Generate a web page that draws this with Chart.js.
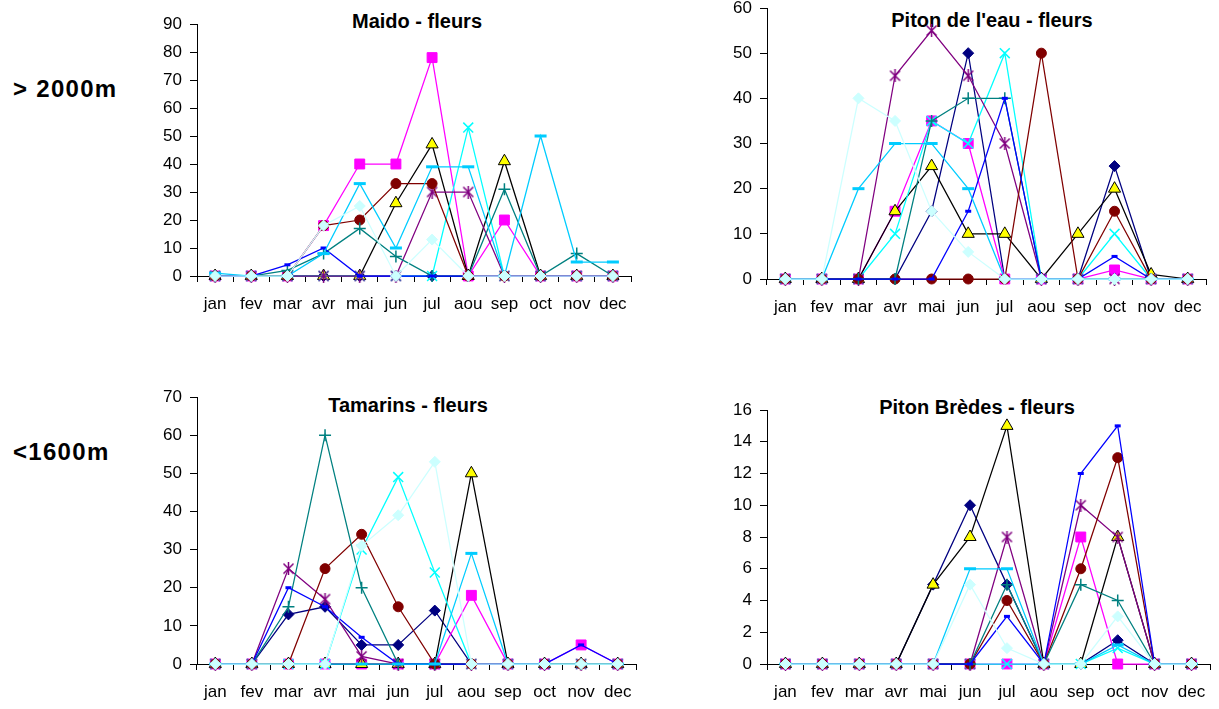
<!DOCTYPE html>
<html>
<head>
<meta charset="utf-8">
<script src="https://cdn.jsdelivr.net/npm/chart.js@4.4.1/dist/chart.umd.min.js"></script>
<style>
  body { margin: 0; background: #fff; width: 1219px; height: 709px; overflow: hidden; position: relative;
         font-family: 'Liberation Sans', Arial, sans-serif; }
  canvas { position: absolute; }
  .title { position: absolute; font-weight: bold; font-size: 20px; line-height: 20px; white-space: nowrap;
           transform: translateX(-50%); color: #000; }
  .zone { position: absolute; font-weight: bold; font-size: 24px; line-height: 24px; white-space: nowrap;
          letter-spacing: 1.3px; color: #000; }
</style>
</head>
<body>
<div class="zone" style="left:13px; top:77px;">&gt; 2000m</div>
<div class="zone" style="left:13px; top:440px;">&lt;1600m</div>

<div class="title" style="left:417px; top:11px;">Maido - fleurs</div>
<div class="title" style="left:992px; top:10px;">Piton de l'eau - fleurs</div>
<div class="title" style="left:408px; top:395px;">Tamarins - fleurs</div>
<div class="title" style="left:977px; top:397px;">Piton Brèdes - fleurs</div>

<canvas id="maido"></canvas>
<canvas id="eau"></canvas>
<canvas id="tamarins"></canvas>
<canvas id="bredes"></canvas>

<script>
// months on the x axis
const months = ['jan', 'fev', 'mar', 'avr', 'mai', 'jun', 'jul', 'aou', 'sep', 'oct', 'nov', 'dec'];

// Maido (> 2000m) - one array per series
const maidoNavy    = [0, 0, 0, 0, 0, 0, 0, 0, 0, 0, 0, 0];
const maidoMagenta = [0, 0, 0, 18, 40, 40, 78, 0, 20, 0, 0, 0];
const maidoYellow  = [0, 0, 0, 0, 0, 26, 47, 0, 41, 0, 0, 0];
const maidoCyan    = [0, 0, 0, 0, 0, 0, 0, 53, 0, 0, 0, 0];
const maidoPurple  = [0, 0, 0, 0, 0, 0, 30, 30, 0, 0, 0, 0];
const maidoMaroon  = [0, 0, 0, 18, 20, 33, 33, 0, 0, 0, 0, 0];
const maidoTeal    = [0, 0, 2, 8, 17, 7, 0, 0, 31, 0, 8, 0];
const maidoBlue    = [0, 0, 4, 10, 0, 0, 0, 0, 0, 0, 0, 0];
const maidoSky     = [1, 0, 0, 8, 33, 10, 39, 39, 0, 50, 5, 5];
const maidoPale    = [0, 0, 0, 18, 25, 0, 13, 0, 0, 0, 0, 0];

// Piton de l'eau (> 2000m)
const eauNavy    = [0, 0, 0, 0, 15, 50, 0, 0, 0, 25, 0, 0];
const eauMagenta = [0, 0, 0, 15, 35, 30, 0, 0, 0, 2, 0, 0];
const eauYellow  = [0, 0, 0, 15, 25, 10, 10, 0, 10, 20, 1, 0];
const eauCyan    = [0, 0, 0, 10, 35, 30, 50, 0, 0, 10, 0, 0];
const eauPurple  = [0, 0, 0, 45, 55, 45, 30, 0, 0, 0, 0, 0];
const eauMaroon  = [0, 0, 0, 0, 0, 0, 0, 50, 0, 15, 0, 0];
const eauTeal    = [0, 0, 0, 0, 35, 40, 40, 0, 0, 0, 0, 0];
const eauBlue    = [0, 0, 0, 0, 0, 15, 40, 0, 0, 5, 0, 0];
const eauSky     = [0, 0, 20, 30, 30, 20, 0, 0, 0, 0, 0, 0];
const eauPale    = [0, 0, 40, 35, 15, 6, 0, 0, 0, 0, 0, 0];

// Tamarins (< 1600m)
const tamNavy    = [0, 0, 13, 15, 5, 5, 14, 0, 0, 0, 0, 0];
const tamMagenta = [0, 0, 0, 0, 0, 0, 0, 18, 0, 0, 5, 0];
const tamYellow  = [0, 0, 0, 0, 0, 0, 0, 50, 0, 0, 0, 0];
const tamCyan    = [0, 0, 0, 0, 30, 49, 24, 0, 0, 0, 0, 0];
const tamPurple  = [0, 0, 25, 17, 2, 0, 0, 0, 0, 0, 0, 0];
const tamMaroon  = [0, 0, 0, 25, 34, 15, 0, 0, 0, 0, 0, 0];
const tamTeal    = [0, 0, 15, 60, 20, 0, 0, 0, 0, 0, 0, 0];
const tamBlue    = [0, 0, 20, 15, 7, 0, 0, 0, 0, 0, 5, 0];
const tamSky     = [0, 0, 0, 0, 0, 0, 0, 29, 0, 0, 0, 0];
const tamPale    = [0, 0, 0, 0, 31, 39, 53, 0, 0, 0, 0, 0];

// Piton Brèdes (< 1600m)
const bredNavy    = [0, 0, 0, 0, 5, 10, 5, 0, 0, 1.5, 0, 0];
const bredMagenta = [0, 0, 0, 0, 0, 0, 0, 0, 8, 0, 0, 0];
const bredYellow  = [0, 0, 0, 0, 5, 8, 15, 0, 0, 8, 0, 0];
const bredCyan    = [0, 0, 0, 0, 0, 0, 0, 0, 0, 1, 0, 0];
const bredPurple  = [0, 0, 0, 0, 0, 0, 8, 0, 10, 8, 0, 0];
const bredMaroon  = [0, 0, 0, 0, 0, 0, 4, 0, 6, 13, 0, 0];
const bredTeal    = [0, 0, 0, 0, 0, 0, 5, 0, 5, 4, 0, 0];
const bredBlue    = [0, 0, 0, 0, 0, 0, 3, 0, 12, 15, 0, 0];
const bredSky     = [0, 0, 0, 0, 0, 6, 6, 0, 0, 1.2, 0, 0];
const bredPale    = [0, 0, 0, 0, 0, 5, 1, 0, 0, 3, 0, 0];

// y axis ranges
const maidoMax = 90, eauMax = 60, tamMax = 70, bredMax = 16;
const maidoStep = 10, eauStep = 10, tamStep = 10, bredStep = 2;

Chart.defaults.font.family = "'Liberation Sans', Arial, sans-serif";
Chart.defaults.font.size = 17;
Chart.defaults.color = '#000';

// asterisk marker: an X with a vertical bar
function asterisk(color) {
  const c = document.createElement('canvas');
  c.width = 13; c.height = 13;
  const g = c.getContext('2d');
  g.strokeStyle = color;
  g.lineWidth = 1.5;
  g.beginPath();
  g.moveTo(1.5, 1.5); g.lineTo(11.5, 11.5);
  g.moveTo(11.5, 1.5); g.lineTo(1.5, 11.5);
  g.moveTo(6.5, 0); g.lineTo(6.5, 13);
  g.stroke();
  return c;
}

// line + marker look of the ten series, in drawing order
const looks = [
  { line: '#000080', style: 'rectRot', r: 5.5, fill: '#000080', edge: '#000080', bw: 1 },
  { line: '#FF00FF', style: 'rect', r: 7, fill: '#FF00FF', edge: '#FF00FF', bw: 1 },
  { line: '#000000', style: 'triangle', r: 7, fill: '#FFFF00', edge: '#000000', bw: 1 },
  { line: '#00FFFF', style: 'crossRot', r: 7, fill: '#00FFFF', edge: '#00FFFF', bw: 1.5 },
  { line: '#800080', style: asterisk('#800080'), r: 7, fill: '#800080', edge: '#800080', bw: 1.5 },
  { line: '#800000', style: 'circle', r: 5, fill: '#800000', edge: '#800000', bw: 1 },
  { line: '#008080', style: 'cross', r: 6, fill: '#008080', edge: '#008080', bw: 1.5 },
  { line: '#0000FF', style: 'line', r: 3, fill: '#0000FF', edge: '#0000FF', bw: 3 },
  { line: '#00CCFF', style: 'line', r: 6, fill: '#00CCFF', edge: '#00CCFF', bw: 3 },
  { line: '#CCFFFF', style: 'rectRot', r: 5.5, fill: '#CCFFFF', edge: '#CCFFFF', bw: 1 }
];

function makeChart(id, area, series, max, step) {
  const padTop = 20, padRight = 8, yW = 97, xH = 45;
  const cv = document.getElementById(id);
  const w = area.right - area.left + yW + padRight;
  const h = area.bottom - area.top + padTop + xH;
  cv.width = w; cv.height = h;
  cv.style.width = w + 'px'; cv.style.height = h + 'px';
  cv.style.left = (area.left - yW) + 'px';
  cv.style.top = (area.top - padTop) + 'px';

  const datasets = series.map((data, i) => ({
    data: data,
    borderColor: looks[i].line,
    borderWidth: 1.25,
    backgroundColor: looks[i].fill,
    pointStyle: looks[i].style,
    pointRadius: looks[i].r,
    pointBackgroundColor: looks[i].fill,
    pointBorderColor: looks[i].edge,
    pointBorderWidth: looks[i].bw,
    tension: 0,
    clip: false,
    order: series.length - i
  }));

  return new Chart(cv, {
    type: 'line',
    data: { labels: months, datasets: datasets },
    options: {
      responsive: false,
      animation: false,
      events: [],
      layout: { padding: { top: padTop, right: padRight, left: 0, bottom: 0 } },
      plugins: { legend: { display: false }, tooltip: { enabled: false } },
      scales: {
        x: {
          offset: true,
          grid: { offset: true, drawOnChartArea: false, drawTicks: true, tickLength: 6, color: '#000' },
          border: { color: '#000', width: 1 },
          ticks: { padding: 12, autoSkip: false, maxRotation: 0 },
          afterFit: s => { s.height = xH; }
        },
        y: {
          min: 0, max: max,
          grid: { drawOnChartArea: false, drawTicks: true, tickLength: 7, color: '#000' },
          border: { color: '#000', width: 1 },
          ticks: { stepSize: step, padding: 8 },
          afterFit: s => { s.width = yW; }
        }
      }
    }
  });
}

makeChart('maido', { left: 197, top: 24, right: 632, bottom: 276 },
  [maidoNavy, maidoMagenta, maidoYellow, maidoCyan, maidoPurple, maidoMaroon, maidoTeal, maidoBlue, maidoSky, maidoPale],
  maidoMax, maidoStep);
makeChart('eau', { left: 767, top: 8, right: 1207, bottom: 279 },
  [eauNavy, eauMagenta, eauYellow, eauCyan, eauPurple, eauMaroon, eauTeal, eauBlue, eauSky, eauPale],
  eauMax, eauStep);
makeChart('tamarins', { left: 197, top: 397, right: 637, bottom: 664 },
  [tamNavy, tamMagenta, tamYellow, tamCyan, tamPurple, tamMaroon, tamTeal, tamBlue, tamSky, tamPale],
  tamMax, tamStep);
makeChart('bredes', { left: 767, top: 410, right: 1211, bottom: 664 },
  [bredNavy, bredMagenta, bredYellow, bredCyan, bredPurple, bredMaroon, bredTeal, bredBlue, bredSky, bredPale],
  bredMax, bredStep);
</script>
</body>
</html>
